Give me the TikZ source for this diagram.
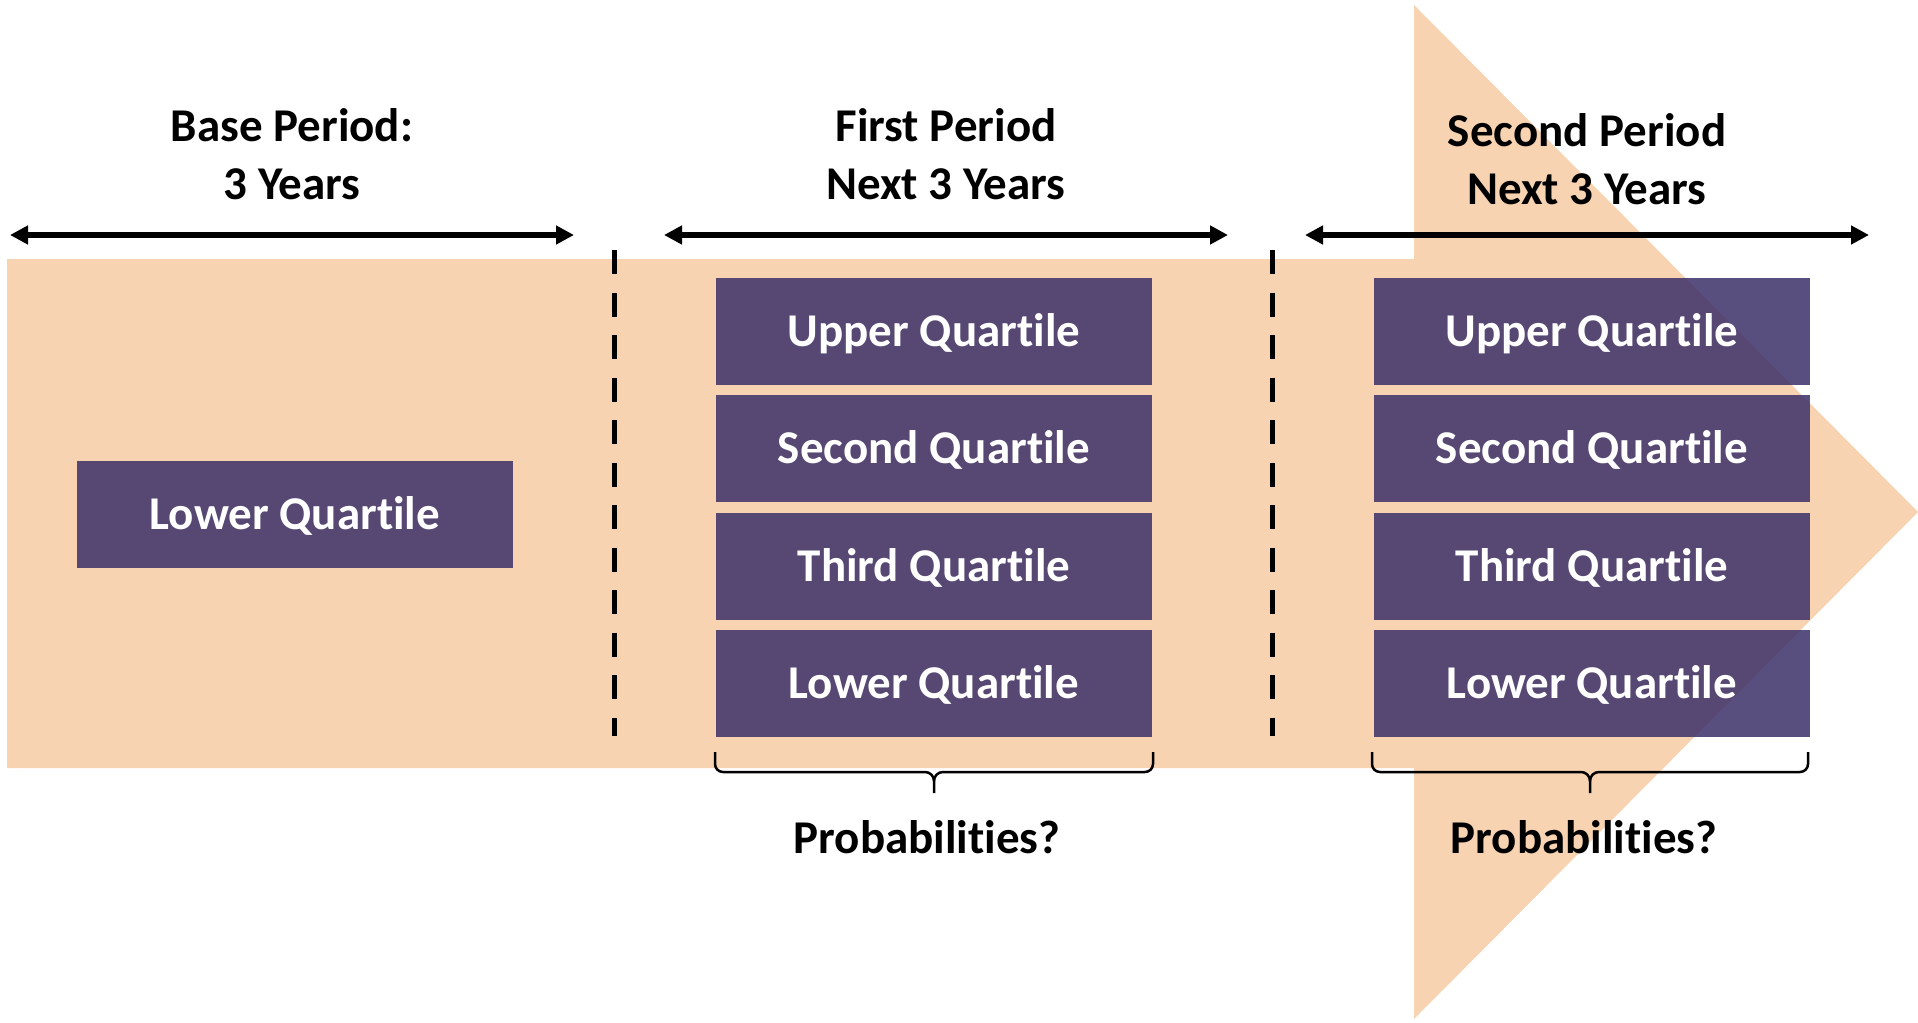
\documentclass[tikz,border=0pt]{standalone}
\usepackage{fontspec}
\setmainfont{Carlito}[Ligatures=NoCommon]
\usetikzlibrary{positioning,arrows.meta}
\definecolor{peach}{RGB}{247,211,178}
\definecolor{plum}{RGB}{60,48,104}

\begin{document}
\begin{tikzpicture}[
  x=1pt, y=-1pt,
  every node/.style={
    font=\bfseries\fontsize{47}{58}\selectfont,
  },
  quart/.style={
    fill=plum, fill opacity=0.85, text opacity=1, text=white,
    minimum width=436pt, minimum height=107pt, inner sep=0pt,
    text height=30pt, text depth=0pt
  },
  period/.style={align=center, inner sep=0pt, anchor=base},
  span/.style={
    line width=6pt,
    {Triangle[length=18pt,width=18pt]}-{Triangle[length=18pt,width=18pt]}
  },
  divider/.style={line width=5pt, dash pattern=on 24pt off 18.5pt},
  curly/.style={line width=2.5pt}
  ]
  \useasboundingbox (0,0) rectangle (1918,1022);

  % big arrow in the background
  \fill[peach] (7,259) -- (1414,259) -- (1414,5) -- (1918,512)
    -- (1414,1019) -- (1414,768) -- (7,768) -- cycle;

  % headings (base = last line)
  \node[period] (basehead) at (292,199) {Base Period:\\3 Years};
  \node[period] (firsthead) at (946,199) {First Period\\Next 3 Years};
  \node[period] (secondhead) at (1587,204) {Second Period\\Next 3 Years};

  % spans
  \coordinate (bl) at (10,235);
  \coordinate (br) at (574,235);
  \coordinate (fl) at (664,235);
  \coordinate (fr) at (1228,235);
  \coordinate (sl) at (1305,235);
  \coordinate (sr) at (1869,235);
  \draw[span] (bl) -- (br);
  \draw[span] (fl) -- (fr);
  \draw[span] (sl) -- (sr);

  % dividers
  \coordinate (d1top) at (614,250);
  \coordinate (d1bot) at (614,736);
  \coordinate (d2top) at (1272,250);
  \coordinate (d2bot) at (1272,736);
  \draw[divider] (d1top) -- (d1bot);
  \draw[divider] (d2top) -- (d2bot);

  % base period
  \node[quart] (blower) at (295,514) {Lower Quartile};

  % first period
  \node[quart] (fupper) at (934,331.5) {Upper Quartile};
  \node[quart, below=10pt of fupper] (fsecond) {Second Quartile};
  \node[quart, below=10pt of fsecond] (fthird) {Third Quartile};
  \node[quart, below=10pt of fthird] (flower) {Lower Quartile};

  % second period
  \node[quart] (supper) at (1592,331.5) {Upper Quartile};
  \node[quart, below=10pt of supper] (ssecond) {Second Quartile};
  \node[quart, below=10pt of ssecond] (sthird) {Third Quartile};
  \node[quart, below=10pt of sthird] (slower) {Lower Quartile};

  % braces
  \draw[curly] (715,752) -- (715,764) to[out=-90,in=180] (723,772)
    -- (925,772) to[out=0,in=90] (934,781) -- (934,793);
  \draw[curly] (934,781) to[out=90,in=180] (943,772)
    -- (1145,772) to[out=0,in=-90] (1153,764) -- (1153,752);
  \draw[curly] (1372,752) -- (1372,764) to[out=-90,in=180] (1380,772)
    -- (1581,772) to[out=0,in=90] (1590,781) -- (1590,793);
  \draw[curly] (1590,781) to[out=90,in=180] (1599,772)
    -- (1800,772) to[out=0,in=-90] (1808,764) -- (1808,752);

  \node[anchor=base] (fprob) at (927,853) {Probabilities?};
  \node[anchor=base] (sprob) at (1584,853) {Probabilities?};
\end{tikzpicture}
\end{document}
